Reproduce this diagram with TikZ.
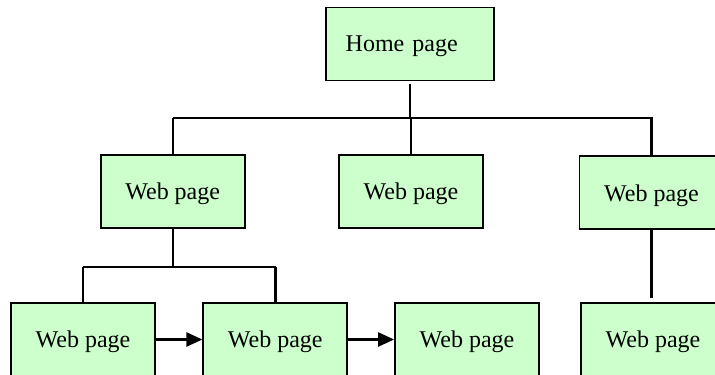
\documentclass[tikz,border=0pt]{standalone}
\usepackage{fontspec}
\setmainfont{Liberation Serif}
\usetikzlibrary{arrows.meta}
\definecolor{pagegreen}{HTML}{CCFFCC}

\begin{document}
\begin{tikzpicture}[x=0.5pt,y=-0.5pt,
  page/.style={draw,line width=0.9pt,fill=pagegreen,minimum width=72pt,
    minimum height=36.5pt,inner sep=0pt,text depth=0pt,font=\fontsize{12}{14}\selectfont},
  link/.style={line width=1.2pt},
  next/.style={link,-{Triangle[length=8pt,width=7pt]}}]
  \useasboundingbox (0,0) rectangle (715,374);
  % top of the site
  \node[page,minimum width=84.3pt,text width=64.3pt,align=left] (home) at (410,44) {Home page};
  % second level
  \node[page] (w1) at (172.7,191.3) {Web page};
  \node[page] (w2) at (411,191.3) {Web page};
  \node[page] (w3) at (651.5,192.8) {Web page};
  % third level
  \node[page] (sub1) at (83,339.5) {Web page};
  \node[page] (sub2) at (275.3,339.5) {Web page};
  \node[page] (sub3) at (467,339.5) {Web page};
  \node[page] (sub4) at (653,339.5) {Web page};
  \coordinate (barL) at (173,118);
  \coordinate (barR) at (653,118);
  \coordinate (forkL) at (83,267);
  \coordinate (forkR) at (276,267);
  \draw[link] (barL) -- (barR);
  \draw[link,shorten <=1.5pt] (home.south) -- (home.south |- barL);
  \foreach \n in {w1,w2,w3}
    \draw[link] (\n.north) -- (\n.north |- barL);
  \draw[link] (forkL) -- (forkR);
  \draw[link] (w1.south) -- (w1.south |- forkL);
  \foreach \n in {sub1,sub2}
    \draw[link] (\n.north) -- (\n.north |- forkL);
  \draw[link,shorten >=2pt] (w3.south) -- (w3.south |- sub4.north);
  \draw[next] (sub1) -- (sub2);
  \draw[next] (sub2) -- (sub3);
\end{tikzpicture}
\end{document}
